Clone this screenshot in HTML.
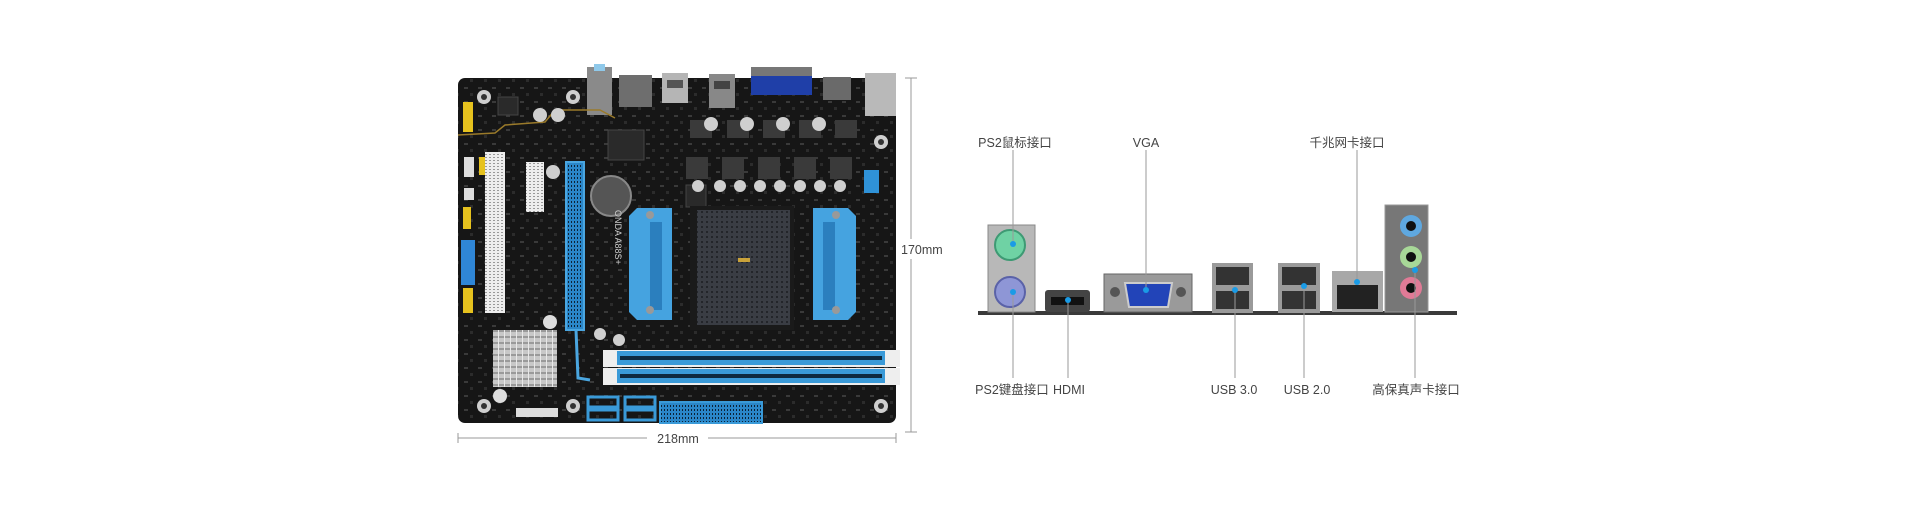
<!DOCTYPE html>
<html><head><meta charset="utf-8"><style>
html,body{margin:0;padding:0;background:#fff;width:1920px;height:528px;overflow:hidden}
svg{position:absolute;left:0;top:0}
text{font-family:"Liberation Sans","Noto Sans CJK SC",sans-serif;fill:#444;font-size:12.5px}
</style></head><body>
<svg width="1920" height="528" viewBox="0 0 1920 528">
<defs>
<pattern id="pcb" width="14" height="14" patternUnits="userSpaceOnUse">
<rect width="14" height="14" fill="#161616"/><rect x="2" y="3" width="4" height="2" fill="#3a3a3a"/><rect x="8" y="9" width="3" height="3" fill="#2c2c2c"/>
</pattern>
<pattern id="grid" width="5" height="5" patternUnits="userSpaceOnUse"><rect width="5" height="5" fill="#3a3d44"/><rect x="1" y="1" width="2" height="2" fill="#23252a"/></pattern>
<pattern id="fin" width="6" height="6" patternUnits="userSpaceOnUse"><rect width="6" height="6" fill="#c8c8c8"/><rect width="6" height="2" fill="#9a9a9a"/><rect width="1" height="6" fill="#e8e8e8"/></pattern>
<pattern id="slot" width="3" height="4" patternUnits="userSpaceOnUse"><rect width="3" height="4" fill="#2a86c8"/><rect x="1" y="1" width="1" height="2" fill="#0c2236"/></pattern>
<pattern id="pci" width="4" height="3" patternUnits="userSpaceOnUse"><rect width="4" height="3" fill="#eee"/><rect x="1" y="1" width="2" height="1" fill="#999"/></pattern>
</defs>

<!-- board -->
<rect x="458" y="78" width="438" height="345" rx="7" fill="url(#pcb)"/>

<!-- IO on top of board -->
<rect x="587" y="67" width="25" height="48" fill="#8a8a8a"/><rect x="594" y="64" width="11" height="7" fill="#8fc9ea"/>
<rect x="619" y="75" width="33" height="32" fill="#6e6e6e"/>
<rect x="662" y="73" width="26" height="30" fill="#b5b5b5"/><rect x="667" y="80" width="16" height="8" fill="#555"/>
<rect x="709" y="74" width="26" height="34" fill="#888"/><rect x="714" y="81" width="16" height="8" fill="#444"/>
<rect x="751" y="67" width="61" height="10" fill="#777"/><rect x="751" y="76" width="61" height="19" fill="#1f3fa8"/>
<rect x="823" y="77" width="28" height="23" fill="#6a6a6a"/>
<rect x="865" y="73" width="31" height="43" fill="#b9b9b9"/>

<!-- mount holes -->
<g fill="#cfcfcf"><circle cx="484" cy="97" r="7"/><circle cx="573" cy="97" r="7"/><circle cx="881" cy="142" r="7"/><circle cx="484" cy="406" r="7"/><circle cx="573" cy="406" r="7"/><circle cx="881" cy="406" r="7"/></g>
<g fill="#333"><circle cx="484" cy="97" r="3"/><circle cx="573" cy="97" r="3"/><circle cx="881" cy="142" r="3"/><circle cx="484" cy="406" r="3"/><circle cx="573" cy="406" r="3"/><circle cx="881" cy="406" r="3"/></g>
<!-- gold trace -->
<path d="M458 135 L495 133 L505 125 L545 122 L555 110 L600 110 L615 118" stroke="#9a7a2a" stroke-width="1.5" fill="none"/>
<!-- yellow headers -->
<g fill="#e6c21e"><rect x="463" y="102" width="10" height="30"/><rect x="463" y="288" width="10" height="25"/><rect x="479" y="157" width="6" height="18"/><rect x="463" y="207" width="8" height="22"/></g>
<rect x="461" y="240" width="14" height="45" fill="#2f86d6"/>
<rect x="464" y="157" width="10" height="20" fill="#ddd"/>
<rect x="464" y="188" width="10" height="12" fill="#ddd"/>
<!-- PCI slots -->
<rect x="485" y="152" width="20" height="161" fill="url(#pci)"/>
<rect x="526" y="162" width="18" height="50" fill="url(#pci)"/>
<!-- PCIe -->
<rect x="566" y="162" width="18" height="168" fill="url(#slot)" stroke="#4aa6e0" stroke-width="2"/>
<path d="M576 330 L578 378 L590 380" stroke="#4aa6e0" stroke-width="3" fill="none"/>
<!-- battery -->
<circle cx="611" cy="196" r="20" fill="#555" stroke="#888" stroke-width="2"/>
<!-- chips -->
<g fill="#2a2a2a" stroke="#444"><rect x="608" y="130" width="36" height="30"/><rect x="498" y="97" width="20" height="18"/><rect x="686" y="185" width="20" height="22"/></g>
<!-- VRM row -->
<g fill="#3a3a3a"><rect x="690" y="120" width="22" height="18"/><rect x="727" y="120" width="22" height="18"/><rect x="763" y="120" width="22" height="18"/><rect x="799" y="120" width="22" height="18"/><rect x="835" y="120" width="22" height="18"/>
<rect x="686" y="157" width="22" height="22"/><rect x="722" y="157" width="22" height="22"/><rect x="758" y="157" width="22" height="22"/><rect x="794" y="157" width="22" height="22"/><rect x="830" y="157" width="22" height="22"/></g>
<g fill="#cfcfcf"><circle cx="711" cy="124" r="7"/><circle cx="747" cy="124" r="7"/><circle cx="783" cy="124" r="7"/><circle cx="819" cy="124" r="7"/><circle cx="698" cy="186" r="6"/><circle cx="720" cy="186" r="6"/><circle cx="740" cy="186" r="6"/><circle cx="760" cy="186" r="6"/><circle cx="780" cy="186" r="6"/><circle cx="800" cy="186" r="6"/><circle cx="820" cy="186" r="6"/><circle cx="840" cy="186" r="6"/><circle cx="540" cy="115" r="7"/><circle cx="558" cy="115" r="7"/><circle cx="553" cy="172" r="7"/><circle cx="600" cy="334" r="6"/><circle cx="619" cy="340" r="6"/></g>
<rect x="864" y="170" width="15" height="23" fill="#2f92d8"/>
<!-- socket area -->
<rect x="690" y="206" width="104" height="124" fill="#1a1a1a"/>
<rect x="697" y="210" width="93" height="115" fill="url(#grid)"/>
<rect x="738" y="258" width="12" height="4" fill="#c9a23a"/>
<path d="M637 208 h35 v112 h-35 l-8 -8 v-96 z" fill="#45a3e0"/><rect x="650" y="222" width="12" height="88" fill="#2b7fbe"/>
<path d="M813 208 h35 l8 8 v96 l-8 8 h-35 z" fill="#45a3e0"/><rect x="823" y="222" width="12" height="88" fill="#2b7fbe"/>
<g fill="#999"><circle cx="650" cy="215" r="4"/><circle cx="650" cy="310" r="4"/><circle cx="836" cy="215" r="4"/><circle cx="836" cy="310" r="4"/></g>
<text x="0" y="0" transform="translate(615,210) rotate(90)" style="font-size:9px;fill:#ccc">ONDA A88S+</text>
<!-- RAM -->
<rect x="603" y="350" width="297" height="17" fill="#eee"/>
<rect x="603" y="368" width="297" height="17" fill="#eee"/>
<rect x="617" y="351" width="268" height="14" fill="#3a9ad8"/><rect x="620" y="356" width="262" height="4" fill="#0e2a40"/>
<rect x="617" y="369" width="268" height="14" fill="#3a9ad8"/><rect x="620" y="374" width="262" height="4" fill="#0e2a40"/>
<!-- heatsink -->
<rect x="493" y="330" width="64" height="57" fill="url(#fin)"/>
<circle cx="500" cy="396" r="7" fill="#ddd"/><circle cx="550" cy="322" r="7" fill="#ddd"/>
<!-- SATA -->
<g fill="none" stroke="#3a9ad8" stroke-width="3"><rect x="588" y="397" width="30" height="10"/><rect x="625" y="397" width="30" height="10"/><rect x="588" y="410" width="30" height="10"/><rect x="625" y="410" width="30" height="10"/></g>
<rect x="660" y="402" width="102" height="21" fill="url(#slot)" stroke="#3a9ad8" stroke-width="2"/>
<rect x="516" y="408" width="42" height="9" fill="#ddd"/>

<!-- dimension lines -->
<g stroke="#999" stroke-width="1">
<line x1="911" y1="78" x2="911" y2="239"/><line x1="911" y1="259" x2="911" y2="432"/>
<line x1="905" y1="78" x2="917" y2="78"/><line x1="905" y1="432" x2="917" y2="432"/>
<line x1="458" y1="438" x2="647" y2="438"/><line x1="708" y1="438" x2="896" y2="438"/>
<line x1="458" y1="433" x2="458" y2="443"/><line x1="896" y1="433" x2="896" y2="443"/>
</g>
<text x="901" y="254">170mm</text>
<text x="678" y="443" text-anchor="middle">218mm</text>

<!-- IO panel -->
<rect x="978" y="311" width="479" height="4" fill="#3a3a3a"/>
<rect x="988" y="225" width="47" height="87" fill="#b8b8b8" stroke="#888"/>
<circle cx="1010" cy="245" r="15" fill="#6fd2a4" stroke="#3e9a74" stroke-width="2"/>
<circle cx="1010" cy="292" r="15" fill="#8e96d6" stroke="#5a62a8" stroke-width="2"/>
<rect x="1045" y="290" width="45" height="22" rx="3" fill="#444"/><rect x="1051" y="297" width="33" height="8" fill="#111"/>
<rect x="1104" y="274" width="88" height="38" fill="#9a9a9a" stroke="#666"/>
<circle cx="1115" cy="292" r="5" fill="#555"/><circle cx="1181" cy="292" r="5" fill="#555"/>
<path d="M1125 283 h47 l-4 24 h-39 z" fill="#2244b8" stroke="#ccc" stroke-width="2"/>
<rect x="1212" y="263" width="41" height="50" fill="#9a9a9a"/><rect x="1216" y="267" width="33" height="18" fill="#333"/><rect x="1216" y="291" width="33" height="18" fill="#333"/>
<rect x="1278" y="263" width="42" height="50" fill="#9a9a9a"/><rect x="1282" y="267" width="34" height="18" fill="#333"/><rect x="1282" y="291" width="34" height="18" fill="#333"/>
<rect x="1332" y="271" width="51" height="41" fill="#a8a8a8"/><rect x="1337" y="285" width="41" height="24" fill="#222"/>
<rect x="1385" y="205" width="43" height="107" fill="#777" stroke="#999"/>
<circle cx="1411" cy="226" r="11" fill="#5fa8e0"/><circle cx="1411" cy="226" r="5" fill="#111"/>
<circle cx="1411" cy="257" r="11" fill="#a8d898"/><circle cx="1411" cy="257" r="5" fill="#111"/>
<circle cx="1411" cy="288" r="11" fill="#e07a96"/><circle cx="1411" cy="288" r="5" fill="#111"/>

<!-- leaders -->
<g stroke="#999" stroke-width="1">
<line x1="1013" y1="150" x2="1013" y2="244"/><line x1="1013" y1="292" x2="1013" y2="378"/>
<line x1="1068" y1="300" x2="1068" y2="378"/>
<line x1="1146" y1="150" x2="1146" y2="290"/>
<line x1="1235" y1="290" x2="1235" y2="378"/>
<line x1="1304" y1="286" x2="1304" y2="378"/>
<line x1="1357" y1="150" x2="1357" y2="282"/>
<line x1="1415" y1="270" x2="1415" y2="378"/>
</g>
<g fill="#1a9be6"><circle cx="1013" cy="244" r="3"/><circle cx="1013" cy="292" r="3"/><circle cx="1068" cy="300" r="3"/><circle cx="1146" cy="290" r="3"/><circle cx="1235" cy="290" r="3"/><circle cx="1304" cy="286" r="3"/><circle cx="1357" cy="282" r="3"/><circle cx="1415" cy="270" r="3"/></g>

<text x="1015" y="147" text-anchor="middle">PS2鼠标接口</text>
<text x="1146" y="147" text-anchor="middle">VGA</text>
<text x="1347" y="147" text-anchor="middle">千兆网卡接口</text>
<text x="1012" y="394" text-anchor="middle">PS2键盘接口</text>
<text x="1069" y="394" text-anchor="middle">HDMI</text>
<text x="1234" y="394" text-anchor="middle">USB 3.0</text>
<text x="1307" y="394" text-anchor="middle">USB 2.0</text>
<text x="1416" y="394" text-anchor="middle">高保真声卡接口</text>
</svg>
</body></html>
